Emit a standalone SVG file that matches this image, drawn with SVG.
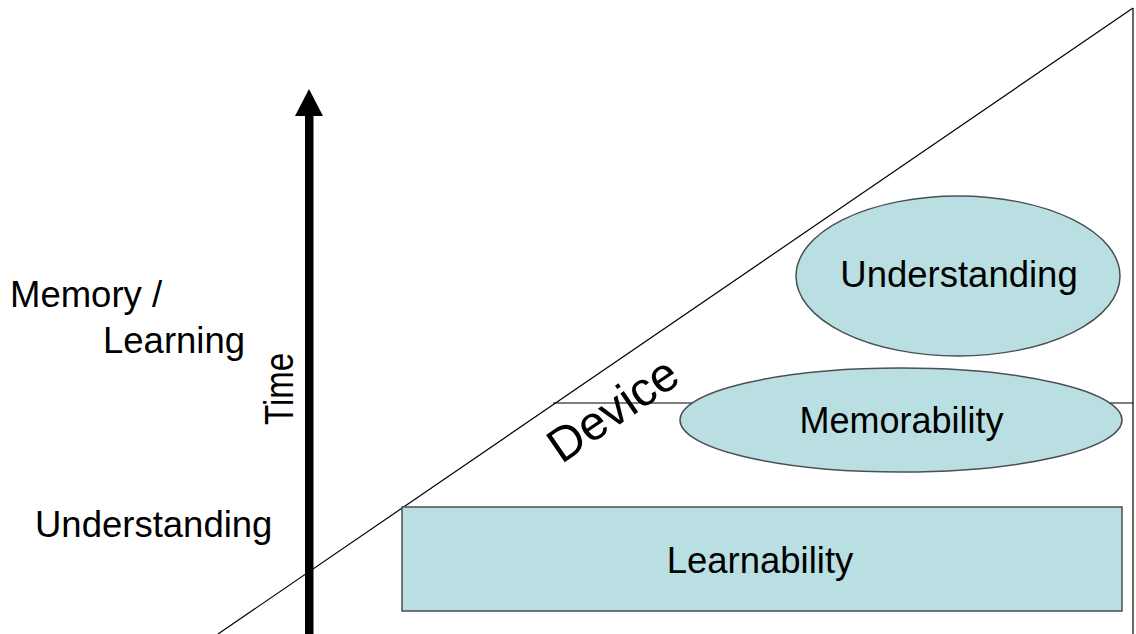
<svg xmlns="http://www.w3.org/2000/svg" width="1136" height="634" viewBox="0 0 1136 634">
  <style>
    .lbl { font-family: "Liberation Sans", Arial, sans-serif; fill: #000; }
    .shape { fill: #B9DFE3; stroke: #4a4f52; stroke-width: 1.5; }
    .thin { stroke: #000; stroke-width: 1.2; fill: none; }
  </style>
  <rect width="1136" height="634" fill="#fff"/>

  <g id="connectors">
    <!-- slope boundary and frame -->
    <line class="thin" x1="218" y1="634" x2="1133" y2="8" stroke="#444"/>
    <line class="thin" x1="1133" y1="8" x2="1133" y2="634"/>
    <line class="thin" x1="553" y1="403" x2="1133" y2="403"/>
    <!-- time axis -->
    <rect x="305" y="112" width="8.5" height="522" fill="#000"/>
    <polygon points="309,89 295,116 323,116" fill="#000"/>
  </g>

  <g id="node-learnability">
    <rect class="shape" x="402" y="507" width="720" height="104" stroke-width="2"/>
    <text class="lbl" x="760" y="573" font-size="36.5" text-anchor="middle">Learnability</text>
  </g>

  <g id="node-memorability">
    <ellipse class="shape" cx="901" cy="420" rx="221" ry="52"/>
    <text class="lbl" x="901.5" y="433" font-size="36" text-anchor="middle">Memorability</text>
  </g>

  <g id="node-understanding">
    <ellipse class="shape" cx="958" cy="276" rx="162" ry="80"/>
    <text class="lbl" x="959" y="287" font-size="36.5" text-anchor="middle">Understanding</text>
  </g>

  <g id="axis-labels">
    <text class="lbl" x="10" y="307" font-size="36.5">Memory /</text>
    <text class="lbl" x="103" y="353" font-size="36.5">Learning</text>
    <text class="lbl" x="35" y="537" font-size="36.5">Understanding</text>
    <text class="lbl" transform="translate(293,389) rotate(-90) scale(1,1.25)" font-size="33" text-anchor="middle">Time</text>
    <text class="lbl" transform="translate(622,423) rotate(-34.4)" font-size="48" text-anchor="middle">Device</text>
  </g>
</svg>
